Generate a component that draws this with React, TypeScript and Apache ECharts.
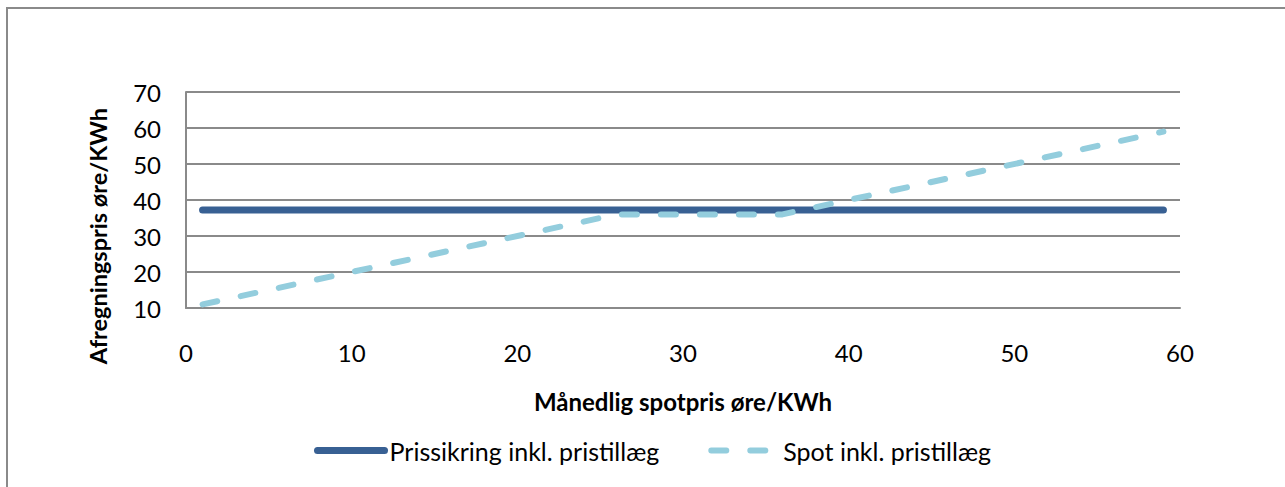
import React, { useEffect, useRef } from "react";
import * as echarts from "echarts";

// ---- data ----
const hedgeX = [1, 59];
const hedgeY = [37.25, 37.25];
const spotX = [1, 26, 36, 59];
const spotY = [11, 36, 36, 59];
const seriesNames = ["Prissikring inkl. pristillæg", "Spot inkl. pristillæg"];
const xTitle = "Månedlig spotpris øre/KWh";
const yTitle = "Afregningspris øre/KWh";
const xMin = 0;
const xMax = 60;
const xStep = 10;
const yMin = 10;
const yMax = 70;
const yStep = 10;

const FONT = "Lato, 'Open Sans', sans-serif";
const GRID_COLOR = "#8a8a8a";
const HEDGE_COLOR = "#386093";
const SPOT_COLOR = "#93CDDD";
const SPOT_DASH = [15, 24];

export default function App() {
  const ref = useRef<HTMLDivElement>(null);

  useEffect(() => {
    document.body.style.margin = "0";
    if (!ref.current) return;
    const chart = echarts.init(ref.current, undefined, { renderer: "svg" });
    const hedgeData = hedgeX.map((x, i) => [x, hedgeY[i]]);
    const spotData = spotX.map((x, i) => [x, spotY[i]]);
    chart.setOption({
      animation: false,
      backgroundColor: "#ffffff",
      textStyle: { fontFamily: FONT, color: "#000" },
      grid: { left: 186, right: 105, top: 92, bottom: 179, containLabel: false },
      xAxis: {
        type: "value",
        min: xMin,
        max: xMax,
        interval: xStep,
        name: xTitle,
        nameLocation: "middle",
        nameGap: 81,
        nameTextStyle: { fontFamily: FONT, fontSize: 24, fontWeight: "bold", color: "#000" },
        axisLine: { show: true, lineStyle: { color: GRID_COLOR, width: 2 } },
        axisTick: { show: false },
        splitLine: { show: false },
        axisLabel: { fontFamily: FONT, fontSize: 24, color: "#000", margin: 32 },
      },
      yAxis: {
        type: "value",
        min: yMin,
        max: yMax,
        interval: yStep,
        axisLine: { show: true, lineStyle: { color: GRID_COLOR, width: 2 } },
        axisTick: { show: false },
        splitLine: { show: true, lineStyle: { color: GRID_COLOR, width: 2 } },
        axisLabel: { fontFamily: FONT, fontSize: 24, color: "#000", margin: 25 },
      },
      legend: {
        left: 314,
        top: 438,
        padding: 0,
        itemWidth: 67,
        itemHeight: 14,
        itemGap: 49,
        itemStyle: { opacity: 0 },
        textStyle: { fontFamily: FONT, fontSize: 25, color: "#000" },
        data: [
          {
            name: seriesNames[0],
            itemStyle: { opacity: 0 },
            lineStyle: { color: HEDGE_COLOR, width: 7, cap: "round", type: "solid" },
          },
          {
            name: seriesNames[1],
            itemStyle: { opacity: 0 },
            lineStyle: { color: SPOT_COLOR, width: 6, cap: "round", type: SPOT_DASH },
          },
        ],
      },
      graphic: [
        {
          type: "rect",
          shape: { x: 7, y: 8, width: 1400, height: 600 },
          style: { fill: "none", stroke: "#8a8a8a", lineWidth: 2 },
          silent: true,
        },
        {
          type: "text",
          x: 98,
          y: 236,
          rotation: Math.PI / 2,
          style: {
            text: yTitle,
            fontFamily: FONT,
            fontSize: 23.5,
            fontWeight: "bold",
            fill: "#000",
            align: "center",
            verticalAlign: "middle",
          },
        },
      ],
      series: [
        {
          name: seriesNames[0],
          type: "line",
          data: hedgeData,
          symbol: "none",
          showSymbol: false,
          lineStyle: { color: HEDGE_COLOR, width: 7, cap: "round" },
          itemStyle: { color: HEDGE_COLOR },
          z: 3,
        },
        {
          name: seriesNames[1],
          type: "line",
          data: spotData,
          symbol: "none",
          showSymbol: false,
          lineStyle: {
            color: SPOT_COLOR,
            width: 6,
            type: SPOT_DASH,
            cap: "round",
            join: "round",
          },
          itemStyle: { color: SPOT_COLOR },
          z: 4,
        },
      ],
    });
    return () => chart.dispose();
  }, []);

  return <div ref={ref} style={{ width: 1285, height: 487 }} />;
}
